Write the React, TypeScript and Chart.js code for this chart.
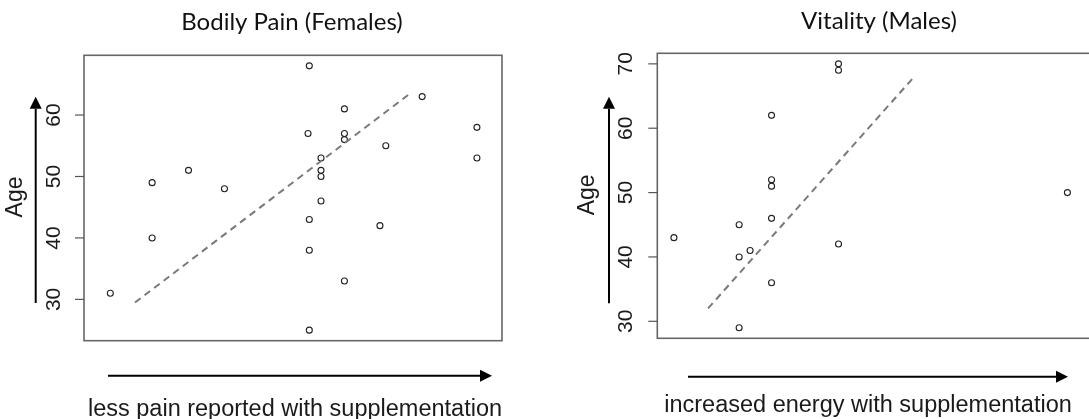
import React, { useEffect, useRef } from "react";
import { Chart, registerables } from "chart.js";

Chart.register(...registerables);

// ---------------- data ----------------
// x: relative improvement score (no axis shown), y: age
const femaleScore = [6.3, 16.3, 16.3, 25.0, 33.6, 53.9, 53.6, 53.9, 53.9, 53.9, 56.7, 56.7, 56.7, 56.7, 62.3, 62.3, 62.3, 62.3, 72.2, 70.8, 80.9, 94.0, 94.0];
const femaleAge = [31, 49, 40, 51, 48, 68, 57, 43, 38, 25, 53, 51, 50, 46, 61, 57, 56, 33, 55, 42, 63, 58, 53];
const femaleFitScore = [12.2, 77.6];
const femaleFitAge = [29.5, 63.3];

const maleScore = [3.8, 18.7, 18.7, 18.7, 21.2, 26.1, 26.1, 26.1, 26.1, 26.1, 41.4, 41.4, 41.4, 93.7];
const maleAge = [43, 45, 40, 29, 41, 62, 52, 51, 46, 36, 70, 69, 42, 50];
const maleFitScore = [11.6, 58.3];
const maleFitAge = [32.0, 67.7];

const femaleAgeTicks = [30, 40, 50, 60];
const maleAgeTicks = [30, 40, 50, 60, 70];

const panelTitles = ["Bodily Pain (Females)", "Vitality (Males)"];
const yAxisLabel = "Age";
const xAxisLabels = ["less pain reported with supplementation", "increased energy with supplementation"];

// ---------------- layout / style ----------------
type PanelCfg = {
  left: number;
  width: number;
  padding: { left: number; right: number; top: number; bottom: number };
  yMin: number;
  yMax: number;
  xs: number[];
  ys: number[];
  fitX: number[];
  fitY: number[];
  ticks: number[];
  title: string;
  xLabel: string;
  titleX: number;
  titleY: number;
  tickLabelX: number;
  ageX: number;
  vArrowX: number;
  vArrowBottom: number;
  vArrowTip: number;
  hArrowY: number;
  hArrowStart: number;
  hArrowTip: number;
  xLabelX: number;
  xLabelY: number;
};

const H = 419;

const panels: PanelCfg[] = [
  {
    left: 0,
    width: 545,
    padding: { left: 84, right: 43, top: 55.3, bottom: 78.3 },
    yMin: 23.28,
    yMax: 69.72,
    xs: femaleScore,
    ys: femaleAge,
    fitX: femaleFitScore,
    fitY: femaleFitAge,
    ticks: femaleAgeTicks,
    title: panelTitles[0],
    xLabel: xAxisLabels[0],
    titleX: 292,
    titleY: 30,
    tickLabelX: 54.7,
    ageX: 16,
    vArrowX: 35.7,
    vArrowBottom: 303,
    vArrowTip: 96.7,
    hArrowY: 375.7,
    hArrowStart: 108,
    hArrowTip: 492,
    xLabelX: 295,
    xLabelY: 415.5,
  },
  {
    left: 545,
    width: 560,
    padding: { left: 112.3, right: 10, top: 53.3, bottom: 80.7 },
    yMin: 27.36,
    yMax: 71.64,
    xs: maleScore,
    ys: maleAge,
    fitX: maleFitScore,
    fitY: maleFitAge,
    ticks: maleAgeTicks,
    title: panelTitles[1],
    xLabel: xAxisLabels[1],
    titleX: 334,
    titleY: 29,
    tickLabelX: 81.5,
    ageX: 43,
    vArrowX: 64,
    vArrowBottom: 303.3,
    vArrowTip: 96.7,
    hArrowY: 376.7,
    hArrowStart: 143,
    hArrowTip: 523,
    xLabelX: 323,
    xLabelY: 412,
  },
];

const SANS = "'Liberation Sans', Arial, sans-serif";
const TITLE_FONT = "Lato, 'Open Sans', sans-serif";

function drawArrow(ctx: CanvasRenderingContext2D, x0: number, y0: number, x1: number, y1: number) {
  const ang = Math.atan2(y1 - y0, x1 - x0);
  const headLen = 12;
  const headHalf = 6;
  const bx = x1 - headLen * Math.cos(ang);
  const by = y1 - headLen * Math.sin(ang);
  ctx.save();
  ctx.strokeStyle = "#000";
  ctx.fillStyle = "#000";
  ctx.lineWidth = 2;
  ctx.beginPath();
  ctx.moveTo(x0, y0);
  ctx.lineTo(bx, by);
  ctx.stroke();
  ctx.beginPath();
  ctx.moveTo(x1, y1);
  ctx.lineTo(bx + headHalf * Math.sin(ang), by - headHalf * Math.cos(ang));
  ctx.lineTo(bx - headHalf * Math.sin(ang), by + headHalf * Math.cos(ang));
  ctx.closePath();
  ctx.fill();
  ctx.restore();
}

function Panel({ cfg }: { cfg: PanelCfg }) {
  const ref = useRef<HTMLCanvasElement>(null);

  useEffect(() => {
    const canvas = ref.current;
    if (!canvas) return;

    const decorations = {
      id: "rDecorations",
      beforeDatasetsDraw(chart: any) {
        const { ctx, chartArea } = chart;
        ctx.save();
        ctx.strokeStyle = "#666";
        ctx.lineWidth = 1.6;
        ctx.strokeRect(chartArea.left, chartArea.top, chartArea.right - chartArea.left, chartArea.bottom - chartArea.top);
        ctx.restore();
      },
      afterDraw(chart: any) {
        const { ctx, chartArea } = chart;
        const yScale = chart.scales.y;
        ctx.save();
        // tick marks + rotated tick labels
        ctx.strokeStyle = "#555";
        ctx.lineWidth = 1.2;
        ctx.fillStyle = "#1a1a1a";
        ctx.font = `21px ${SANS}`;
        ctx.textAlign = "center";
        ctx.textBaseline = "middle";
        cfg.ticks.forEach((v) => {
          const y = yScale.getPixelForValue(v);
          ctx.beginPath();
          ctx.moveTo(chartArea.left - 9, y);
          ctx.lineTo(chartArea.left, y);
          ctx.stroke();
          ctx.save();
          ctx.translate(cfg.tickLabelX, y);
          ctx.rotate(-Math.PI / 2);
          ctx.fillText(String(v), 0, 0);
          ctx.restore();
        });
        // Age label
        ctx.save();
        ctx.font = `23px ${SANS}`;
        ctx.translate(cfg.ageX, (chartArea.top + chartArea.bottom) / 2 - 1);
        ctx.rotate(-Math.PI / 2);
        ctx.fillText(yAxisLabel, 0, 0);
        ctx.restore();
        // arrows
        drawArrow(ctx, cfg.vArrowX, cfg.vArrowBottom, cfg.vArrowX, cfg.vArrowTip);
        drawArrow(ctx, cfg.hArrowStart, cfg.hArrowY, cfg.hArrowTip, cfg.hArrowY);
        // x description
        ctx.font = `23.5px ${SANS}`;
        ctx.textBaseline = "alphabetic";
        ctx.fillText(cfg.xLabel, cfg.xLabelX, cfg.xLabelY);
        // title
        ctx.font = `24px ${TITLE_FONT}`;
        ctx.fillStyle = "#111";
        ctx.fillText(cfg.title, cfg.titleX, cfg.titleY);
        ctx.restore();
      },
    };

    const chart = new Chart(canvas, {
      type: "scatter",
      data: {
        datasets: [
          {
            label: "fit",
            data: cfg.fitX.map((x, i) => ({ x, y: cfg.fitY[i] })),
            showLine: true,
            borderColor: "#7a7a7a",
            borderWidth: 2,
            borderDash: [7, 5],
            pointRadius: 0,
            fill: false,
          },
          {
            label: "points",
            data: cfg.xs.map((x, i) => ({ x, y: cfg.ys[i] })),
            pointStyle: "circle",
            pointRadius: 3,
            pointBorderWidth: 1.1,
            pointBorderColor: "#222",
            pointBackgroundColor: "rgba(255,255,255,0)",
            borderColor: "#222",
            backgroundColor: "rgba(255,255,255,0)",
            showLine: false,
          },
        ],
      },
      options: {
        responsive: false,
        animation: false,
        devicePixelRatio: 1,
        layout: { padding: cfg.padding },
        plugins: { legend: { display: false }, tooltip: { enabled: false }, title: { display: false } },
        scales: {
          x: { type: "linear", display: false, min: 0, max: 100 },
          y: { type: "linear", display: false, min: cfg.yMin, max: cfg.yMax },
        },
      },
      plugins: [decorations],
    } as any);

    return () => chart.destroy();
  }, [cfg]);

  return (
    <canvas
      ref={ref}
      width={cfg.width}
      height={H}
      style={{ position: "absolute", left: cfg.left, top: 0, width: cfg.width, height: H }}
    />
  );
}

export default function App() {
  return (
    <div
      style={{
        position: "fixed",
        left: 0,
        top: 0,
        width: 1089,
        height: H,
        overflow: "hidden",
        background: "#fff",
      }}
    >
      {panels.map((p, i) => (
        <Panel key={i} cfg={p} />
      ))}
    </div>
  );
}
